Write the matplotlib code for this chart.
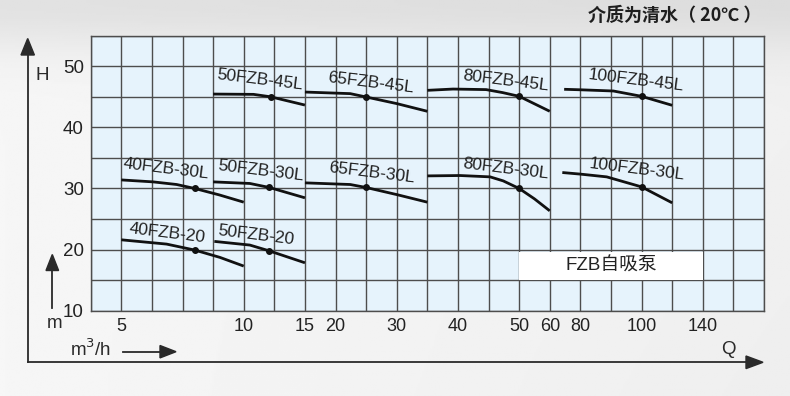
import numpy as np
import matplotlib
matplotlib.use('Agg')
import matplotlib.pyplot as plt
from matplotlib.patches import Rectangle, Polygon

plt.rcParams['font.family'] = ['Liberation Sans', 'Noto Sans CJK SC', 'DejaVu Sans']

# ---------------- data ----------------
model_names = ['50FZB-45L', '65FZB-45L', '80FZB-45L', '100FZB-45L',
               '40FZB-30L', '50FZB-30L', '65FZB-30L', '80FZB-30L', '100FZB-30L',
               '40FZB-20', '50FZB-20']

curve_q = [
    [8.75, 10.8, 12.2, 15],
    [15, 22.4, 25, 30, 35],
    [35, 39.2, 44.6, 47.3, 50, 60],
    [69.4, 80, 90.8, 100, 120],
    [5, 6.3, 7.26, 8, 9.0, 10],
    [8.75, 10.5, 12.1, 15],
    [15, 22.4, 25, 30, 35],
    [35, 40.35, 45.25, 47.4, 50, 55, 60],
    [68.2, 80, 88.6, 100, 120],
    [5, 6.85, 8, 9.03, 10],
    [8.8, 10.5, 12.07, 15],
]
curve_h = [
    [45.45, 45.4, 45.0, 43.65],
    [45.78, 45.52, 44.97, 43.89, 42.63],
    [46.06, 46.27, 46.18, 45.69, 45.08, 42.63],
    [46.23, 46.15, 45.95, 45.08, 43.61],
    [31.4, 31.08, 30.65, 30.0, 28.95, 27.76],
    [31.08, 30.82, 30.16, 28.47],
    [30.92, 30.65, 30.16, 29.0, 27.76],
    [32.06, 32.12, 31.9, 31.24, 30.0, 28.3, 26.34],
    [32.61, 32.35, 31.9, 30.26, 27.65],
    [21.6, 20.9, 19.92, 18.72, 17.3],
    [21.34, 20.74, 19.8, 17.84],
]
duty_q = [12.2, 25, 50, 100, 8, 12.1, 25, 50, 100, 8, 12.07]
duty_h = [45.0, 44.97, 45.08, 45.08, 30.0, 30.16, 30.16, 30.0, 30.26, 19.92, 19.8]

# piecewise flow axis (Q value -> grid column)
scale_q = [3.75, 5, 10, 15, 20, 30, 40, 50, 60, 80, 100, 140, 180]
scale_col = [0, 1, 5, 7, 8, 10, 12, 14, 15, 16, 18, 20, 22]
x_tick_values = [5, 10, 15, 20, 30, 40, 50, 60, 80, 100, 140]
y_tick_values = [10, 20, 30, 40, 50]

# label offsets from duty point (pixels) - layout only
label_offsets = [(-11, 17), (5, 14), (-13, 16), (-6, 16),
                 (-29, 20), (-9, 17), (5, 15), (-13, 20), (-5, 17),
                 (-27, 17), (-13, 16)]

W, H = 790, 396
fig = plt.figure(figsize=(W / 100, H / 100), dpi=100)

# ---------------- background gradient ----------------
bg = fig.add_axes([0, 0, 1, 1], zorder=-10)
yy, xx = np.mgrid[0:1:200j, 0:1:400j]
val = 0.965 - 0.08 * np.exp(-((yy - 0.0) / 0.13) ** 2) - 0.03 * yy * xx - 0.02 * (1 - yy) * xx
bg.imshow(val, cmap='gray', vmin=0, vmax=1, aspect='auto', extent=[0, 1, 0, 1])
bg.set_axis_off()

# ---------------- main chart ----------------
ax = fig.add_axes([90.7 / W, 1 - 310.7 / H, (764 - 90.7) / W, (310.7 - 35.7) / H])


def fwd(q):
    return np.interp(q, scale_q, scale_col)


def inv(c):
    return np.interp(c, scale_col, scale_q)


ax.set_xscale('function', functions=(fwd, inv))
ax.set_xlim(scale_q[0], scale_q[-1])
ax.set_ylim(10, 55)
ax.set_facecolor('#e6f3fc')

ax.set_xticks(x_tick_values)
ax.set_xticklabels([str(v) for v in x_tick_values])
ax.set_xticks(inv(np.arange(0, 23)), minor=True)
ax.set_yticks(y_tick_values)
ax.set_yticklabels([str(v) for v in y_tick_values])
ax.set_yticks(np.arange(15, 56, 10), minor=True)
ax.grid(which='both', color='#4d4d4d', lw=1.0, zorder=1)
ax.set_axisbelow(True)
ax.tick_params(which='both', length=0)
ax.tick_params(axis='x', pad=5, labelsize=13, labelcolor='#222222')
ax.tick_params(axis='y', pad=5, labelsize=13.5, labelcolor='#222222')
for s in ax.spines.values():
    s.set_color('#4d4d4d')
    s.set_linewidth(1.0)

# white caption box
ax.add_patch(Rectangle((50, 15), 140 - 50, 19.65 - 15, facecolor='white',
                       edgecolor='none', zorder=2))
ax.text(inv(17), 17.3, 'FZB自吸泵', ha='center', va='center', fontsize=13.5,
        color='#222222', zorder=3, family=['Liberation Sans', 'Noto Sans CJK SC'])

for name, qs, hs, dq, dh, off in zip(model_names, curve_q, curve_h, duty_q, duty_h, label_offsets):
    ax.plot(qs, hs, color='#111111', lw=2.0, zorder=4, solid_capstyle='butt')
    ax.plot([dq], [dh], 'o', color='#111111', ms=4, zorder=5)
    ax.annotate(name, xy=(dq, dh), xytext=off, textcoords='offset pixels',
                ha='center', va='center', rotation=-7, fontsize=12.5,
                color='#222222', zorder=6)

# ---------------- overlay (frame, arrows, texts) ----------------
ov = fig.add_axes([0, 0, 1, 1], zorder=10)
ov.set_xlim(0, W)
ov.set_ylim(H, 0)
ov.set_axis_off()
ov.patch.set_alpha(0)
lc = '#2a2a2a'
ov.plot([27.7, 27.7], [362.3, 50], color=lc, lw=1.3)
ov.plot([27.7, 750], [362.3, 362.3], color=lc, lw=1.3)
ov.add_patch(Polygon([[27.7, 38.5], [21, 55], [34.4, 55]], closed=True, color=lc))
ov.add_patch(Polygon([[763, 362.3], [746, 356], [746, 368.6]], closed=True, color=lc))
# small vertical arrow (m)
ov.plot([52.3, 52.3], [308, 268], color=lc, lw=1.3)
ov.add_patch(Polygon([[52.3, 254.5], [46, 270.5], [58.6, 270.5]], closed=True, color=lc))
# small horizontal arrow (m3/h)
ov.plot([123, 163], [351.7, 351.7], color=lc, lw=1.3)
ov.add_patch(Polygon([[176, 351.7], [160, 345.5], [160, 357.9]], closed=True, color=lc))

tc = '#2a2a2a'
ov.text(42, 75, 'H', ha='center', va='center', fontsize=13.5, color=tc)
ov.text(54.5, 324, 'm', ha='center', va='center', fontsize=13.5, color=tc)
ov.text(91, 349, 'm$^3$/h', ha='center', va='center', fontsize=13.5, color=tc)
ov.text(728, 350, 'Q', ha='center', va='center', fontsize=13.5, color=tc)
ov.text(761, 15.5, '介质为清水（ 20℃ ）', ha='right', va='center', fontsize=13,
        color='#1e1e1e', fontweight='bold', family=['Noto Sans CJK SC', 'DejaVu Sans'])

fig.savefig('out.png', dpi=100)
